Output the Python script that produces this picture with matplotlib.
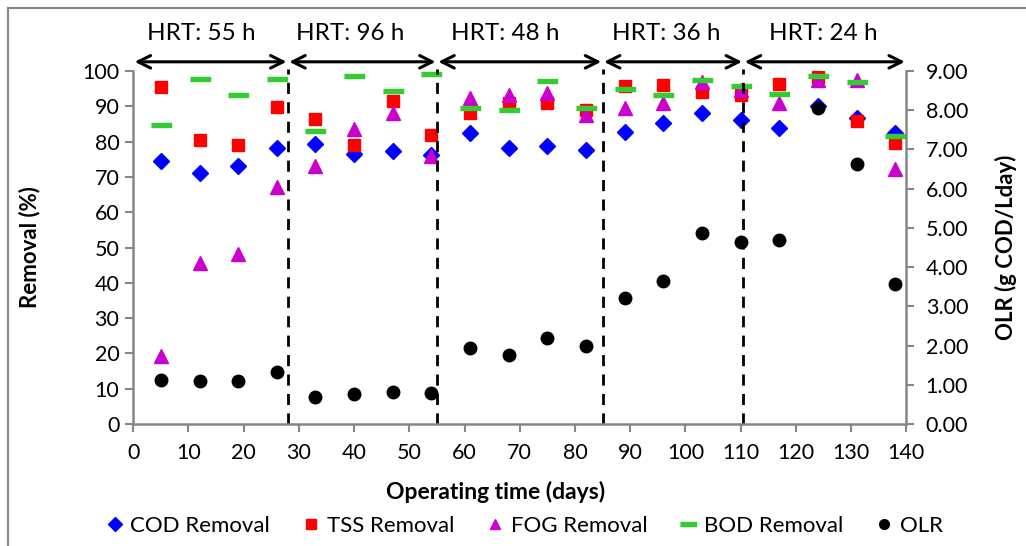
import matplotlib
matplotlib.use('Agg')
import matplotlib.pyplot as plt
from matplotlib.lines import Line2D

plt.rcParams['font.family'] = ['Lato', 'DejaVu Sans']

# Operating days of each sample
days = [5, 12, 19, 26, 33, 40, 47, 54, 61, 68, 75, 82, 89, 96, 103, 110, 117, 124, 131, 138]

# Removal efficiencies (%)
cod = [74.6, 71.0, 73.1, 78.2, 79.2, 76.5, 77.3, 76.3, 82.3, 78.3, 78.7, 77.7,
       82.7, 85.3, 88.1, 86.0, 83.8, 90.0, 86.8, 82.3]
tss = [95.4, 80.4, 78.9, 89.9, 86.4, 78.9, 91.6, 81.9, 88.2, 90.9, 90.9, 89.0,
       95.8, 96.1, 94.0, 93.2, 96.3, 98.4, 85.9, 79.6]
fog = [19.3, 45.5, 48.2, 67.1, 73.1, 83.6, 88.1, 75.9, 92.3, 93.2, 93.7, 87.6,
       89.6, 90.9, 97.0, 94.6, 90.9, 97.5, 97.5, 72.2]
bod = [84.6, 97.7, 93.2, 97.6, 83.0, 98.6, 94.2, 99.1, 89.6, 88.9, 97.1, 89.6,
       95.0, 93.2, 97.5, 95.8, 93.6, 98.6, 96.9, 81.7]

# Organic loading rate (g COD/L day)
olr = [1.12, 1.09, 1.09, 1.33, 0.68, 0.76, 0.82, 0.79, 1.93, 1.77, 2.19, 1.98,
       3.20, 3.64, 4.88, 4.64, 4.69, 8.05, 6.63, 3.56]

# HRT periods
period_edges = [0, 28, 55, 85, 110.5, 140]
period_labels = ['HRT: 55 h', 'HRT: 96 h', 'HRT: 48 h', 'HRT: 36 h', 'HRT: 24 h']
label_x = [12.4, 39.2, 67.3, 96.6, 125.0]

grey = '#868686'
bar_marker = [(-2, -0.45), (2, -0.45), (2, 0.45), (-2, 0.45)]

fig = plt.figure(figsize=(10.26, 5.46), dpi=100)
ax = fig.add_axes([0.1299, 0.2234, 0.7534, 0.6466])
ax2 = ax.twinx()

ax.plot(days, cod, 'D', color='#0000FF', markersize=8, linestyle='none', label='COD Removal')
ax.plot(days, tss, 's', color='#FF0000', markersize=8.5, linestyle='none', label='TSS Removal')
ax.plot(days, fog, '^', color='#CC00CC', markersize=10, linestyle='none', label='FOG Removal')
ax.plot(days, bod, marker=bar_marker, color='#33CC33', markersize=15, linestyle='none', label='BOD Removal')
ax2.plot(days, olr, 'o', color='black', markersize=9, linestyle='none', label='OLR')

ax.set_xlim(0, 140)
ax.set_ylim(0, 100)
ax2.set_ylim(0, 9)
ax.set_xticks(range(0, 141, 10))
ax.set_yticks(range(0, 101, 10))
ax2.set_yticks(range(0, 10))
ax2.set_yticklabels(['%.2f' % v for v in range(0, 10)])

for a in (ax, ax2):
    for s in a.spines.values():
        s.set_visible(False)
    a.tick_params(colors=grey, labelcolor='black', labelsize=15.5, width=1.5, length=6)
ax.spines['left'].set_visible(True)
ax.spines['bottom'].set_visible(True)
ax2.spines['right'].set_visible(True)
for s in (ax.spines['left'], ax.spines['bottom'], ax2.spines['right']):
    s.set_color(grey)
    s.set_linewidth(1.8)
ax.tick_params(axis='x', pad=8)
ax.tick_params(axis='y', pad=4)
ax2.tick_params(axis='y', pad=8)

# period separators and arrows
for xe in period_edges[1:-1]:
    ax.plot([xe, xe], [0, 100.5], color='black', linestyle=(0, (4, 3)), linewidth=2, clip_on=False)
for i in range(len(period_labels)):
    ax.annotate('', xy=(period_edges[i], 102.6), xytext=(period_edges[i + 1], 102.6),
                xycoords='data', annotation_clip=False,
                arrowprops=dict(arrowstyle='<->,head_length=0.9,head_width=0.45', color='black',
                                lw=2.2, shrinkA=1, shrinkB=1))
    ax.text(label_x[i], 110.6, period_labels[i], ha='center', va='center', fontsize=17.5, clip_on=False)

fig.text(0.029, 0.547, 'Removal (%)', rotation=90, ha='center', va='center',
         fontsize=16, fontweight='bold')
fig.text(0.980, 0.547, 'OLR (g COD/Lday)', rotation=90, ha='center', va='center',
         fontsize=16, fontweight='bold')
fig.text(0.4834, 0.0995, 'Operating time (days)', ha='center', va='center',
         fontsize=16.5, fontweight='bold')

handles = [
    Line2D([], [], marker='D', color='#0000FF', markersize=7, linestyle='none'),
    Line2D([], [], marker='s', color='#FF0000', markersize=7, linestyle='none'),
    Line2D([], [], marker='^', color='#CC00CC', markersize=7, linestyle='none'),
    Line2D([], [], marker=bar_marker, color='#33CC33', markersize=12, linestyle='none'),
    Line2D([], [], marker='o', color='black', markersize=7, linestyle='none'),
]
labels = ['COD Removal', 'TSS Removal', 'FOG Removal', 'BOD Removal', 'OLR']
fig.legend(handles, labels, loc='center', bbox_to_anchor=(0.511, 0.037), ncol=5,
           frameon=False, fontsize=16, handlelength=0.8, handletextpad=0.3,
           columnspacing=1.45)

# chart border (top and left)
fig.add_artist(Line2D([0.008, 1.0], [0.985, 0.985], color=grey, lw=1.5, transform=fig.transFigure))
fig.add_artist(Line2D([0.008, 0.008], [0.0, 0.985], color=grey, lw=1.5, transform=fig.transFigure))

fig.savefig('out.png', dpi=100)
